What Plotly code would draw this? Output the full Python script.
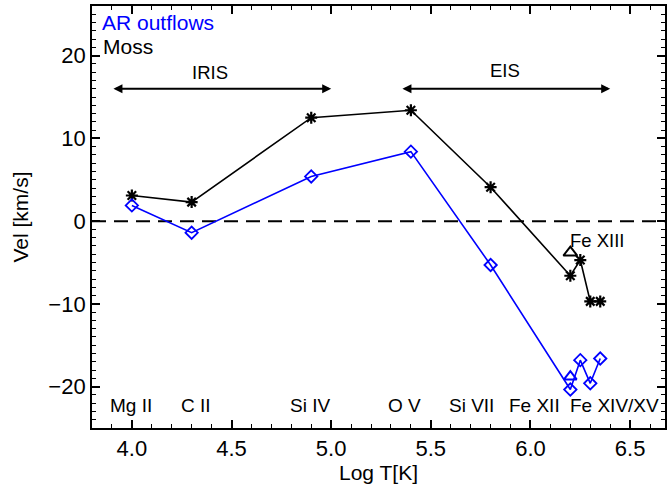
import plotly.graph_objects as go

# Data
logT = [4.0, 4.3, 4.9, 5.4, 5.8, 6.2, 6.25, 6.3, 6.35]
moss_vel = [3.1, 2.3, 12.5, 13.4, 4.1, -6.6, -4.7, -9.7, -9.7]
ar_vel = [1.9, -1.4, 5.4, 8.4, -5.3, -20.35, -16.8, -19.6, -16.6]

fe13_T = [6.2]
fe13_moss = [-3.8]
fe13_ar = [-18.8]

ion_labels = ["Mg II", "C II", "Si IV", "O V", "Si VII", "Fe XII", "Fe XIV/XV"]
ion_label_T = [3.995, 4.32, 4.895, 5.37, 5.705, 6.02, 6.42]
ion_label_v = -22.25

iris_range = [3.9, 5.0]
eis_range = [5.35, 6.4]
arrow_v = 16.0

xrange_ = [3.8, 6.675]
yrange_ = [-25, 26]

FONT = "Liberation Sans, Arial, Helvetica, sans-serif"

fig = go.Figure()

# zero dashed line
fig.add_trace(go.Scatter(x=xrange_, y=[0, 0], mode="lines",
                         line=dict(color="black", width=2, dash="14px,8px"),
                         hoverinfo="skip", showlegend=False))

fig.add_trace(go.Scatter(x=logT, y=moss_vel, mode="lines+markers",
                         line=dict(color="black", width=1.6),
                         marker=dict(symbol="asterisk-open", size=10,
                                     line=dict(color="black", width=2.2)),
                         showlegend=False))
fig.add_trace(go.Scatter(x=logT, y=ar_vel, mode="lines+markers",
                         line=dict(color="#0000ff", width=1.6),
                         marker=dict(symbol="diamond-open", size=9.5, color="#0000ff",
                                     line=dict(color="#0000ff", width=1.8)),
                         showlegend=False))
fig.add_trace(go.Scatter(x=fe13_T, y=fe13_moss, mode="markers",
                         marker=dict(symbol="triangle-up-open", size=12, color="black",
                                     line=dict(color="black", width=2)),
                         showlegend=False))
fig.add_trace(go.Scatter(x=fe13_T, y=fe13_ar, mode="markers",
                         marker=dict(symbol="triangle-up-open", size=11, color="#0000ff",
                                     line=dict(color="#0000ff", width=2)),
                         showlegend=False))

annotations = []
for lab, t in zip(ion_labels, ion_label_T):
    annotations.append(dict(x=t, y=ion_label_v, xref="x", yref="y", text=lab,
                            showarrow=False, font=dict(family=FONT, size=19, color="black"),
                            xanchor="center", yanchor="middle"))

annotations += [
    dict(x=3.845, y=24.0, xref="x", yref="y", text="AR outflows", showarrow=False, borderpad=0,
         font=dict(family=FONT, size=21, color="#0000ff"), xanchor="left", yanchor="middle"),
    dict(x=3.848, y=21.1, xref="x", yref="y", text="Moss", showarrow=False, borderpad=0,
         font=dict(family=FONT, size=21, color="black"), xanchor="left", yanchor="middle"),
    dict(x=4.39, y=18.0, xref="x", yref="y", text="IRIS", showarrow=False,
         font=dict(family=FONT, size=18.5, color="black"), xanchor="center", yanchor="middle"),
    dict(x=5.87, y=18.2, xref="x", yref="y", text="EIS", showarrow=False,
         font=dict(family=FONT, size=18.5, color="black"), xanchor="center", yanchor="middle"),
    dict(x=6.335, y=-2.3, xref="x", yref="y", text="Fe XIII", showarrow=False,
         font=dict(family=FONT, size=18.5, color="black"), xanchor="center", yanchor="middle"),
]
for rng in (iris_range, eis_range):
    annotations.append(dict(x=rng[1], y=arrow_v, ax=rng[0], ay=arrow_v,
                            xref="x", yref="y", axref="x", ayref="y", text="",
                            showarrow=True, arrowhead=2, startarrowhead=2,
                            arrowside="end+start", arrowsize=0.9, startarrowsize=0.9,
                            arrowwidth=2, arrowcolor="black", standoff=0, startstandoff=0))

axis_common = dict(showline=True, linecolor="black", linewidth=1.8, mirror="allticks",
                   ticks="inside", tickcolor="black", tickwidth=1.5, ticklen=8,
                   showgrid=False, zeroline=False,
                   tickfont=dict(family=FONT, size=22, color="black"))

fig.update_xaxes(range=xrange_, dtick=0.5, tick0=4.0, tickformat=".1f",
                 minor=dict(dtick=0.1, ticks="inside", ticklen=4, tickcolor="black", tickwidth=1.2),
                 title=dict(text="Log T[K]", font=dict(family=FONT, size=21, color="black"), standoff=4),
                 **axis_common)
fig.update_yaxes(range=yrange_, dtick=10, tick0=0,
                 minor=dict(dtick=1, ticks="inside", ticklen=4, tickcolor="black", tickwidth=1.2),
                 title=dict(text="Vel [km/s]", font=dict(family=FONT, size=21, color="black"), standoff=14),
                 **axis_common)

fig.update_layout(width=668, height=486, margin=dict(l=92, r=1, t=6, b=58),
                  plot_bgcolor="white", paper_bgcolor="white",
                  annotations=annotations, showlegend=False,
                  font=dict(family=FONT, color="black"))

fig.write_html("out.html")
